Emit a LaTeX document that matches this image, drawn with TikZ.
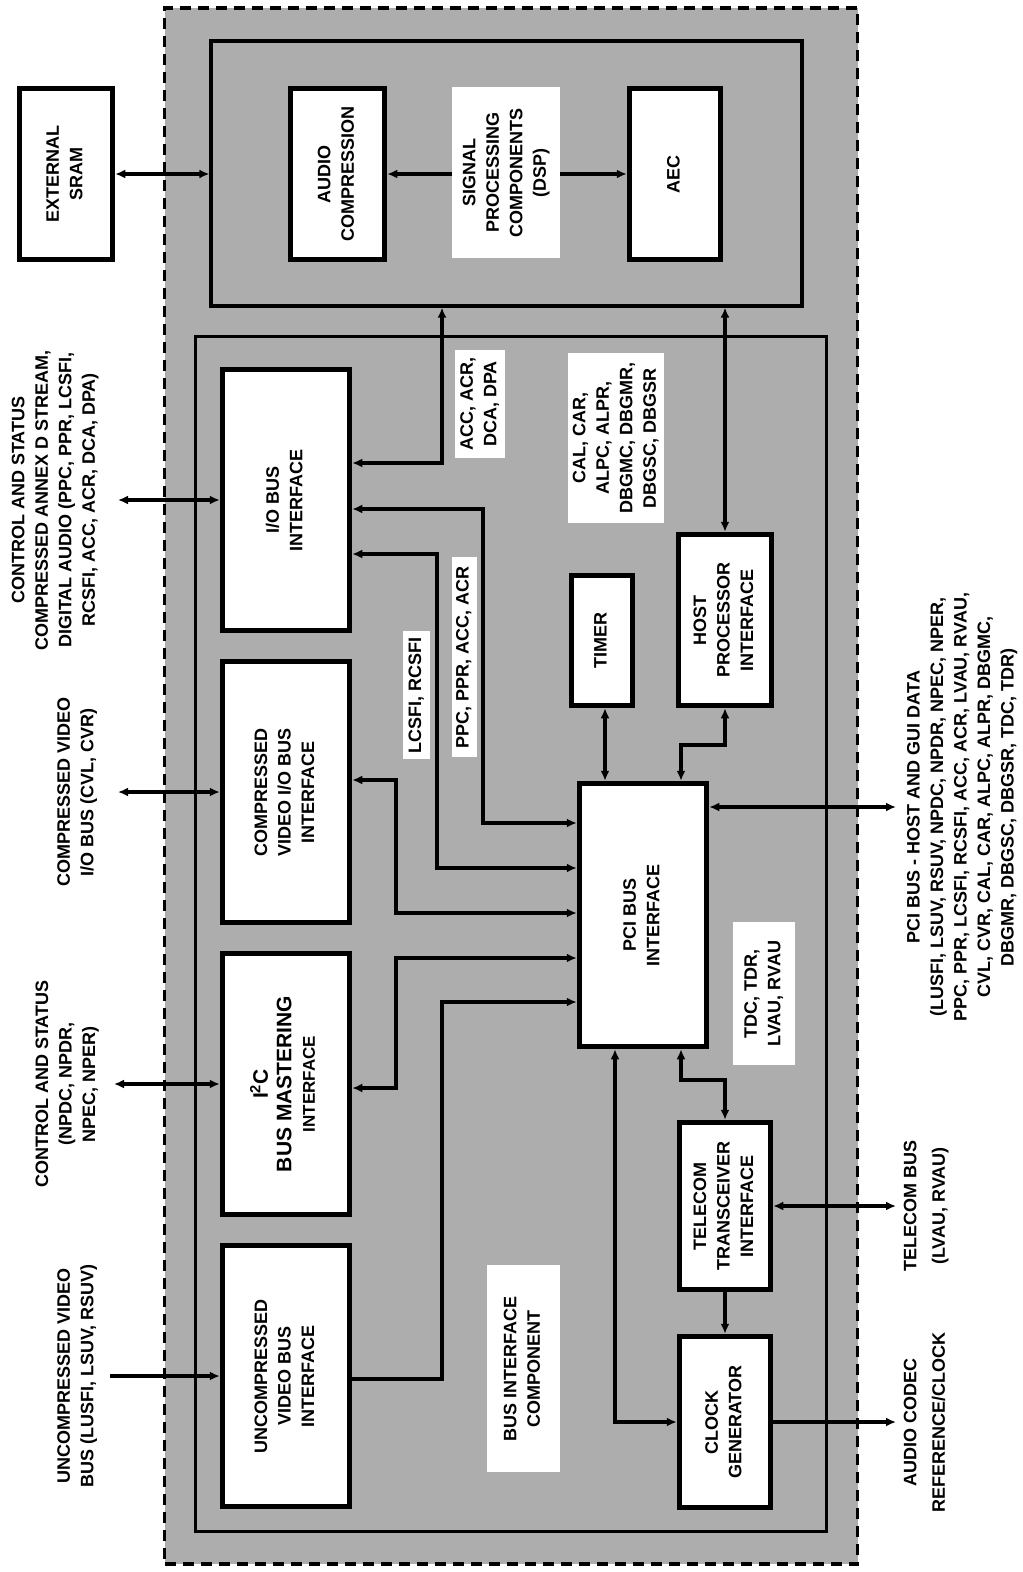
\documentclass[tikz,border=0pt]{standalone}
\usepackage{fontspec}
\setmainfont{Liberation Sans}
\usepackage{graphicx}
\usetikzlibrary{arrows.meta}
\definecolor{dotgray}{gray}{0.68}
\newcommand{\vt}[1]{\rotatebox{90}{\begin{tabular}{@{}c@{}}#1\end{tabular}}}

\begin{document}
\begin{tikzpicture}[
    x=1pt, y=-1pt,
    >={Latex[length=10pt,width=9pt]},
    font=\fontsize{18}{23.5}\selectfont\bfseries,
    chip/.style={draw, line width=3.4pt, dash pattern=on 11pt off 7pt, fill=dotgray, inner sep=0pt},
    part/.style={draw, line width=3.2pt, fill=dotgray, inner sep=0pt},
    blk/.style={draw, line width=5pt, fill=white, inner sep=0pt},
    tag/.style={fill=white, inner sep=0pt},
    ext/.style={inner sep=0pt},
    link/.style={line width=3.2pt}
]
\useasboundingbox (0,0) rectangle (1023,1572);

\node[chip, minimum width=693, minimum height=1556] (chip) at (511,786) {};
\node[part, minimum width=591, minimum height=265] (dsp) at (506.5,173.5) {};
\node[part, minimum width=631, minimum height=1195] (bic) at (511,934) {};

\node[blk, minimum width=93.5, minimum height=171.5] (sram) at (66,174) {\vt{EXTERNAL\\SRAM}};
\node[blk, minimum width=94.5, minimum height=171.5] (ac) at (337.5,174) {\vt{AUDIO\\COMPRESSION}};
\node[blk, minimum width=91.5, minimum height=171.5] (aec) at (675,174) {\vt{AEC}};
\node[tag, minimum width=108, minimum height=171] (spcl) at (506,172.5) {\vt{SIGNAL\\PROCESSING\\COMPONENTS\\(DSP)}};

\node[blk, minimum width=127.5, minimum height=261.5] (io) at (286,500) {\vt{I/O BUS\\INTERFACE}};
\node[blk, minimum width=127.5, minimum height=261.5] (cv) at (286,792) {\vt{COMPRESSED\\VIDEO I/O BUS\\INTERFACE}};
\node[blk, minimum width=127.5, minimum height=261.5] (i2c) at (286,1084) {\vt{\fontsize{21}{25}\selectfont I\textsuperscript{2}C\\\fontsize{21}{25}\selectfont BUS MASTERING\\\fontsize{17}{22}\selectfont INTERFACE}};
\node[blk, minimum width=127.5, minimum height=261.5] (ucv) at (286,1376) {\vt{UNCOMPRESSED\\VIDEO BUS\\INTERFACE}};

\node[blk, minimum width=61.5, minimum height=130.5] (timer) at (602,640.5) {\vt{TIMER}};
\node[blk, minimum width=92.5, minimum height=171.5] (host) at (725,620) {\vt{HOST\\PROCESSOR\\INTERFACE}};
\node[blk, minimum width=127.5, minimum height=263.5] (pci) at (643,915) {\vt{PCI BUS\\INTERFACE}};
\node[blk, minimum width=91.5, minimum height=167.5] (tele) at (725,1206) {\vt{TELECOM\\TRANSCEIVER\\INTERFACE}};
\node[blk, minimum width=91.5, minimum height=171.5] (clock) at (725,1422) {\vt{CLOCK\\GENERATOR}};

\node[tag, minimum width=50, minimum height=108] (accl) at (480,404) {\vt{ACC, ACR,\\DCA, DPA}};
\node[tag, minimum width=96, minimum height=170] (call) at (616,438) {\vt{CAL, CAR,\\ALPC, ALPR,\\DBGMC, DBGMR,\\DBGSC, DBGSR}};
\node[tag, minimum width=27, minimum height=128] (lcsl) at (416.5,695) {\vt{LCSFI, RCSFI}};
\node[tag, minimum width=25, minimum height=200] (ppcl) at (464,657) {\vt{PPC, PPR, ACC, ACR}};
\node[tag, minimum width=62, minimum height=143] (tdcl) at (764,993.5) {\vt{TDC, TDR,\\LVAU, RVAU}};
\node[tag, minimum width=73, minimum height=207] (bicl) at (523.5,1368.5) {\vt{BUS INTERFACE\\COMPONENT}};

\node[ext] (iol) at (55,500) {\vt{CONTROL AND STATUS\\COMPRESSED ANNEX D STREAM,\\DIGITAL AUDIO (PPC, PPR, LCSFI,\\RCSFI, ACC, ACR, DCA, DPA)}};
\node[ext] (cvl) at (77,792) {\vt{COMPRESSED VIDEO\\I/O BUS (CVL, CVR)}};
\node[ext] (i2cl) at (67,1084) {\vt{CONTROL AND STATUS\\(NPDC, NPDR,\\NPEC, NPER)}};
\node[ext] (ucvl) at (77,1376) {\vt{UNCOMPRESSED VIDEO\\BUS (LUSFI, LSUV, RSUV)}};
\node[ext] (pcil) at (962,807) {\vt{PCI BUS - HOST AND GUI DATA\\(LUSFI, LSUV, RSUV, NPDC, NPDR, NPEC, NPER,\\PPC, PPR, LCSFI, RCSFI, ACC, ACR, LVAU, RVAU,\\CVL, CVR, CAL, CAR, ALPC, ALPR, DBGMC,\\DBGMR, DBGSC, DBGSR, TDC, TDR)}};
\node[ext] (telel) at (926,1206) {\vt{TELECOM BUS\\[5pt](LVAU, RVAU)}};
\node[ext] (clkl) at (926,1422) {\vt{AUDIO CODEC\\[5pt]REFERENCE/CLOCK}};

\coordinate (iox) at (118,500);
\coordinate (cvx) at (118,792);
\coordinate (i2cx) at (114,1084);
\coordinate (ucvx) at (110,1376);
\coordinate (pcix) at (896,807);
\coordinate (telex) at (896,1206);
\coordinate (clkx) at (896,1422);

\draw[link, <->] (sram) -- (dsp.west |- sram);
\draw[link, ->] (spcl.west |- ac) -- (ac.east);
\draw[link, ->] (spcl.east |- aec) -- (aec.west);
\draw[link, <->] (dsp.south -| 442,0) |- (io.east |- 0,463);
\draw[link, <->] (dsp.south -| host) -- (host);

\draw[link, <->] (io.east |- 0,509) -| (483,823) -- (pci.west |- 0,823);
\draw[link, <->] (io.east |- 0,554) -| (437,868) -- (pci.west |- 0,868);
\draw[link, <->] (cv.east |- 0,780) -| (396,913) -- (pci.west |- 0,913);
\draw[link, <->] (i2c.east |- 0,1088) -| (396,958) -- (pci.west |- 0,958);
\draw[link, ->] (ucv.east |- 0,1379) -| (442,1002) -- (pci.west |- 0,1002);

\draw[link, <->] (timer.south -| 605,0) -- (pci.north -| 605,0);
\draw[link, <->] (host.south) |- (681,745) -- (pci.north -| 681,0);
\draw[link, <->] (pci.east |- pcix) -- (pcix);
\draw[link, <->] (pci.south -| 681,0) |- (tele.north |- 0,1080) -- (tele.north);
\draw[link, <->] (pci.south -| 615,0) |- (clock.west);
\draw[link, ->] (tele) -- (clock);
\draw[link, <->] (tele) -- (telex);
\draw[link, ->] (clock) -- (clkx);

\draw[link, <->] (io) -- (iox);
\draw[link, <->] (cv) -- (cvx);
\draw[link, <->] (i2c) -- (i2cx);
\draw[link, ->] (ucvx) -- (ucv);

\end{tikzpicture}
\end{document}
